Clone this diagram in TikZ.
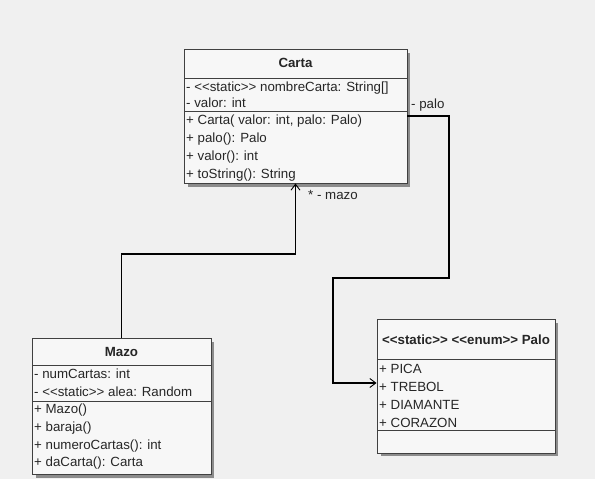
\documentclass[tikz,border=0pt]{standalone}
\usepackage{fontspec}
\setmainfont{Liberation Sans}
\usetikzlibrary{arrows.meta}
\newcommand{\lt}{<\kern0pt<}
\newcommand{\gt}{>\kern0pt>}
\begin{document}
\begin{tikzpicture}[x=1pt,y=-1pt,
  umlbox/.style={draw=black!75,line width=0.9pt,fill=black!3,inner sep=0pt},
  shadowbox/.style={fill=black!45,draw=none},
  member/.style={anchor=west,inner sep=0pt,font=\fontsize{13.3}{14}\selectfont,text=black!85},
  title/.style={inner sep=0pt,font=\bfseries\fontsize{13.3}{14}\selectfont,text=black!85},
  divider/.style={draw=black!75,line width=0.9pt},
  assoc/.style={draw=black,line width=1.4pt,-{Straight Barb[length=6pt,width=9pt,line width=0.9pt]}},
  lbl/.style={inner sep=0pt,font=\fontsize{13.3}{14}\selectfont,text=black!85}]
\useasboundingbox[fill=black!6] (0,0) rectangle (595,479);
% shadows
\fill[shadowbox] (188,53) rectangle (410,187);
\fill[shadowbox] (36,342) rectangle (214,478);
\fill[shadowbox] (381,323) rectangle (558,456);
% Carta
\node[umlbox,minimum width=223pt,minimum height=134pt] (carta) at (295.5,116) {};
\draw[divider] (184,78) coordinate (c1) -- (407,78) coordinate (c1e);
\draw[divider] (184,111) coordinate (c2) -- (407,111) coordinate (c2e);
\node[title] (cartat) at (295.5,63) {Carta};
\node[member] (ca1) at (186,88) {- \lt static\gt\ nombreCarta: String[]};
\node[member] (ca2) at (186,103) {- valor: int};
\node[member] (cm1) at (186,121) {+ Carta( valor: int, palo: Palo)};
\node[member] (cm2) at (186,139) {+ palo(): Palo};
\node[member] (cm3) at (186,157) {+ valor(): int};
\node[member] (cm4) at (186,175) {+ toString(): String};
% Mazo
\node[umlbox,minimum width=179pt,minimum height=136pt] (mazo) at (121.5,406) {};
\draw[divider] (32,365) coordinate (m1) -- (211,365) coordinate (m1e);
\draw[divider] (32,401) coordinate (m2) -- (211,401) coordinate (m2e);
\node[title] (mazot) at (121.5,352) {Mazo};
\node[member] (ma1) at (34,374) {- numCartas: int};
\node[member] (ma2) at (34,392) {- \lt static\gt\ alea: Random};
\node[member] (mm1) at (34,410) {+ Mazo()};
\node[member] (mm2) at (34,428) {+ baraja()};
\node[member] (mm3) at (34,446) {+ numeroCartas(): int};
\node[member] (mm4) at (34,463) {+ daCarta(): Carta};
% Palo
\node[umlbox,minimum width=178pt,minimum height=134pt] (palo) at (466,386) {};
\draw[divider] (377,359) coordinate (p1) -- (555,359) coordinate (p1e);
\draw[divider] (377,430) coordinate (p2) -- (555,430) coordinate (p2e);
\node[title] (palot) at (466,340) {\lt static\gt\ \lt enum\gt\ Palo};
\node[member] (pa1) at (379,369) {+ PICA};
\node[member] (pa2) at (379,387) {+ TREBOL};
\node[member] (pa3) at (379,405) {+ DIAMANTE};
\node[member] (pa4) at (379,423) {+ CORAZON};
% connectors
\coordinate (b1) at (121.5,254);
\coordinate (b2) at (295.5,254);
\draw[assoc] (mazo.north) -- (b1) -- (b2) -- (carta.south);
\node[lbl,anchor=west] (mazol) at (308,195) {* - mazo};
\coordinate (q1) at (449,116);
\coordinate (q2) at (449,278);
\coordinate (q3) at (333,278);
\coordinate (q4) at (333,383);
\draw[assoc] (carta.east) -- (q1) -- (q2) -- (q3) -- (q4) -- (palo.west |- q4);
\node[lbl,anchor=west] (palol) at (411,105) {- palo};
\end{tikzpicture}
\end{document}
